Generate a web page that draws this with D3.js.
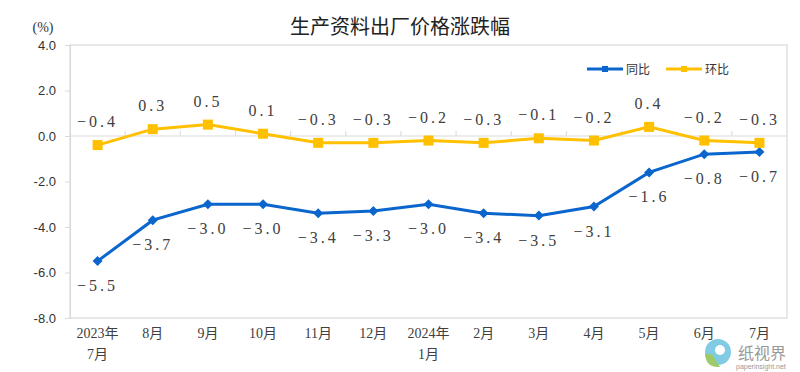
<!DOCTYPE html>
<html>
<head>
<meta charset="utf-8">
<script src="https://cdn.jsdelivr.net/npm/d3@7"></script>
<style>
  body { margin: 0; background: #fff; }
  text { font-family: "Liberation Serif", "Noto Sans CJK SC", serif; }
</style>
</head>
<body>
<svg id="chart" width="800" height="372"></svg>
<script>
// months on the category axis (two-line labels where needed)
const months = [["2023年", "7月"], ["8月"], ["9月"], ["10月"], ["11月"], ["12月"],
  ["2024年", "1月"], ["2月"], ["3月"], ["4月"], ["5月"], ["6月"], ["7月"]];
const yoy = [-5.5, -3.7, -3.0, -3.0, -3.4, -3.3, -3.0, -3.4, -3.5, -3.1, -1.6, -0.8, -0.7];
const mom = [-0.4, 0.3, 0.5, 0.1, -0.3, -0.3, -0.2, -0.3, -0.1, -0.2, 0.4, -0.2, -0.3];
const yTicks = [4, 2, 0, -2, -4, -6, -8];

const svg = d3.select("#chart");
const plotL = 70, plotR = 787, plotT = 45, plotB = 318;

const x = d3.scaleBand().domain(d3.range(months.length)).range([plotL, plotR]);
const y = d3.scaleLinear().domain([-8, 4]).range([plotB, plotT]);
const cx = i => x(i) + x.bandwidth() / 2;

// title + unit
svg.append("text").attr("x", 400).attr("y", 34).attr("text-anchor", "middle")
  .style("font-family", "'Noto Sans CJK SC', sans-serif").style("font-size", "20px")
  .attr("fill", "#222").text("生产资料出厂价格涨跌幅");
svg.append("text").attr("x", 43).attr("y", 32).attr("text-anchor", "middle")
  .style("font-size", "14px").attr("fill", "#333").text("(%)");

// plot frame
svg.append("rect").attr("x", plotL).attr("y", plotT).attr("width", plotR - plotL).attr("height", plotB - plotT)
  .attr("fill", "none").attr("stroke", "#d9d9d9").attr("stroke-width", 1.2);

// y axis
const yAxis = d3.axisLeft(y).tickValues(yTicks).tickSize(5).tickFormat(d3.format(".1f"));
const gy = svg.append("g").attr("transform", `translate(${plotL},0)`).call(yAxis);
gy.select(".domain").attr("stroke", "#d9d9d9");
gy.selectAll(".tick line").attr("stroke", "#d9d9d9");
gy.selectAll(".tick text").attr("x", -14).attr("fill", "#333")
  .style("font-family", "'Liberation Sans', Arial, sans-serif").style("font-size", "13px")
  .text(d => d3.format(".1f")(d).replace("−", "-"));

// zero line with category boundary ticks
svg.append("line").attr("x1", plotL).attr("x2", plotR).attr("y1", y(0)).attr("y2", y(0))
  .attr("stroke", "#d9d9d9").attr("stroke-width", 1.2);
svg.selectAll(".cat-tick").data(d3.range(1, months.length)).join("line")
  .attr("x1", i => x(i)).attr("x2", i => x(i))
  .attr("y1", y(0)).attr("y2", y(0) - 5).attr("stroke", "#d9d9d9");

// x labels
const gx = svg.append("g");
months.forEach((m, i) => {
  const t = gx.append("text").attr("x", cx(i)).attr("y", 338).attr("text-anchor", "middle")
    .style("font-size", "14px").attr("fill", "#404040");
  m.forEach((s, k) => t.append("tspan").attr("x", cx(i)).attr("dy", k ? 21 : 0).text(s));
});

const line = d3.line().x((d, i) => cx(i)).y(d => y(d));

// 同比 (blue, diamonds)
svg.append("path").datum(yoy).attr("d", line).attr("fill", "none")
  .attr("stroke", "#0a66cc").attr("stroke-width", 3);
svg.selectAll(".yoy-pt").data(yoy).join("path")
  .attr("d", d3.symbol(d3.symbolSquare, 50))
  .attr("transform", (d, i) => `translate(${cx(i)},${y(d)}) rotate(45)`)
  .attr("fill", "#0a66cc");

// 环比 (yellow, squares)
svg.append("path").datum(mom).attr("d", line).attr("fill", "none")
  .attr("stroke", "#ffc000").attr("stroke-width", 3);
svg.selectAll(".mom-pt").data(mom).join("rect")
  .attr("x", (d, i) => cx(i) - 5).attr("y", d => y(d) - 5)
  .attr("width", 10).attr("height", 10).attr("fill", "#ffc000");

// data labels (long minus like the original)
const lbl = v => d3.format(".1f")(v).replace("-", "−");
svg.selectAll(".yoy-lbl").data(yoy).join("text")
  .attr("x", (d, i) => cx(i)).attr("y", d => y(d) + 30)
  .attr("text-anchor", "middle").style("font-size", "16px").style("letter-spacing", "3px")
  .attr("fill", "#404040").text(lbl);
svg.selectAll(".mom-lbl").data(mom).join("text")
  .attr("x", (d, i) => cx(i)).attr("y", d => y(d) - 18)
  .attr("text-anchor", "middle").style("font-size", "16px").style("letter-spacing", "3px")
  .attr("fill", "#404040").text(lbl);

// legend
const legend = [["同比", "#0a66cc", 587], ["环比", "#ffc000", 666]];
legend.forEach(([name, c, lx]) => {
  svg.append("line").attr("x1", lx).attr("x2", lx + 36).attr("y1", 69).attr("y2", 69)
    .attr("stroke", c).attr("stroke-width", 3);
  svg.append("rect").attr("x", lx + 15).attr("y", 66).attr("width", 6).attr("height", 6).attr("fill", c);
  svg.append("text").attr("x", lx + 39).attr("y", 74)
    .style("font-family", "'Noto Sans CJK SC', sans-serif").style("font-size", "12px")
    .attr("fill", "#333").text(name);
});

// watermark
const wm = svg.append("g").attr("opacity", 0.85);
wm.append("circle").attr("cx", 718).attr("cy", 352).attr("r", 13).attr("fill", "#6cc3e0");
wm.append("path").attr("d", "M705,354 Q706,368 720,367 L712,354 Z").attr("fill", "#8cc152");
wm.append("circle").attr("cx", 720).attr("cy", 350).attr("r", 5).attr("fill", "#fff");
wm.append("text").attr("x", 738).attr("y", 359).style("font-family", "'Noto Sans CJK SC', sans-serif")
  .style("font-size", "16px").attr("fill", "#888").text("纸视界");
wm.append("text").attr("x", 736).attr("y", 369).style("font-family", "'Liberation Sans', sans-serif")
  .style("font-size", "7px").attr("fill", "#888").text("paperinsight.net");
</script>
</body>
</html>
